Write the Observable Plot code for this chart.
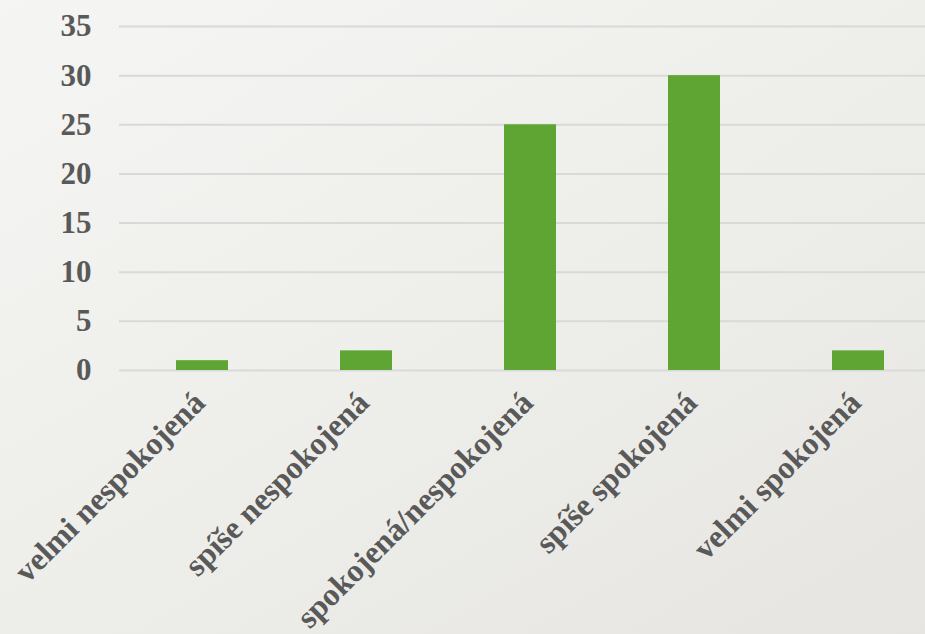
<!DOCTYPE html>
<html>
<head>
<meta charset="utf-8">
<script src="https://cdn.jsdelivr.net/npm/d3@7"></script>
<script src="https://cdn.jsdelivr.net/npm/@observablehq/plot@0.6"></script>
<style>
  html, body { margin: 0; padding: 0; }
  body {
    width: 925px; height: 634px; overflow: hidden;
    background: linear-gradient(150deg, #f5f5f3 0%, #eeeeeb 50%, #e6e5e1 100%);
  }
  #chart svg { background: transparent; display: block; }
  #chart svg, #chart svg text { font-family: "Liberation Serif", "DejaVu Serif", serif !important; font-weight: bold; }
</style>
</head>
<body>
<div id="chart"></div>
<script>
const categories = ["velmi nespokojená", "spíše nespokojená", "spokojená/nespokojená", "spíše spokojená", "velmi spokojená"];
const values = [1, 2, 25, 30, 2];
const yTicks = [0, 5, 10, 15, 20, 25, 30, 35];

const data = categories.map((c, i) => ({category: c, value: values[i]}));

const chart = Plot.plot({
  width: 925,
  height: 634,
  marginLeft: 119,
  marginRight: 0,
  marginTop: 26,
  marginBottom: 264,
  style: {background: "transparent", fontWeight: "bold", fontSize: "31px", color: "#595959"},
  x: {domain: categories, range: [119, 941.5], paddingInner: 0.684, paddingOuter: 0.342, label: null},
  y: {domain: [0, 35], label: null},
  marks: [
    Plot.ruleY(yTicks, {stroke: "#d9d9d9", strokeWidth: 2}),
    Plot.barY(data, {x: "category", y: "value", fill: "#5fa533"}),
    Plot.axisY(yTicks, {tickSize: 0, tickPadding: 28, fontSize: 31, fontWeight: "bold", fill: "#595959", label: null}),
    Plot.axisX({tickSize: 0, tickPadding: 27, dx: -3, tickRotate: -45, fontSize: 32, fontWeight: "bold", fill: "#595959", label: null})
  ]
});
document.getElementById("chart").appendChild(chart);
</script>
</body>
</html>
